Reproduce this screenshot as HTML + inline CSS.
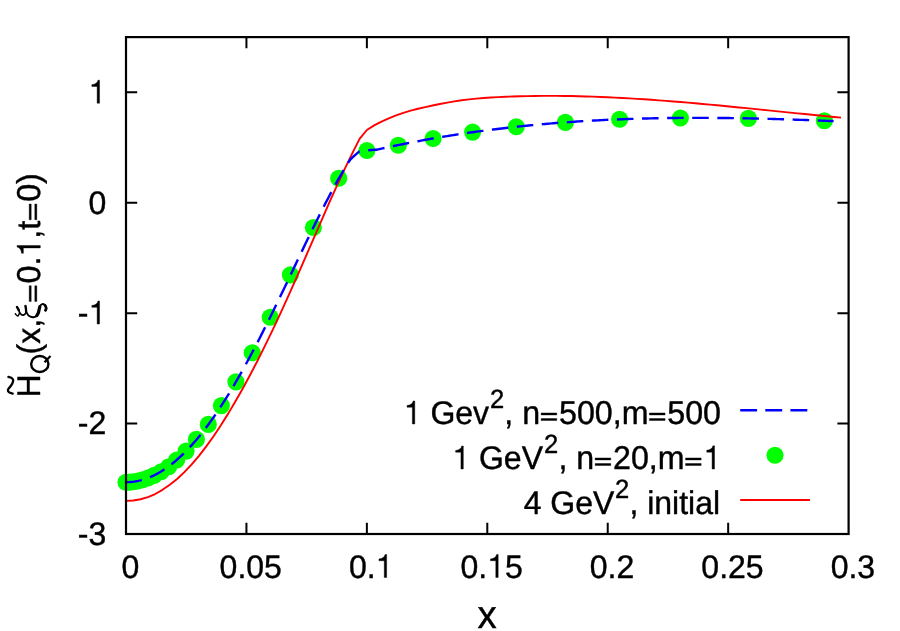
<!DOCTYPE html>
<html><head><meta charset="utf-8"><title>plot</title>
<style>html,body{margin:0;padding:0;background:#fff}svg{display:block;will-change:transform}</style>
</head><body>
<svg width="900" height="631" viewBox="0 0 900 631">
<rect width="900" height="631" fill="#fff"/>
<g fill="#00ff00"><circle cx="126.00" cy="482.20" r="8.55"/><circle cx="129.49" cy="482.09" r="8.55"/><circle cx="133.39" cy="481.72" r="8.55"/><circle cx="137.74" cy="481.00" r="8.55"/><circle cx="142.60" cy="479.80" r="8.55"/><circle cx="148.02" cy="477.97" r="8.55"/><circle cx="154.07" cy="475.34" r="8.55"/><circle cx="161.10" cy="471.70" r="8.55"/><circle cx="168.70" cy="466.70" r="8.55"/><circle cx="176.70" cy="460.00" r="8.55"/><circle cx="186.10" cy="451.10" r="8.55"/><circle cx="196.40" cy="439.40" r="8.55"/><circle cx="208.30" cy="424.40" r="8.55"/><circle cx="221.40" cy="405.60" r="8.55"/><circle cx="235.90" cy="381.90" r="8.55"/><circle cx="252.20" cy="352.80" r="8.55"/><circle cx="270.20" cy="317.20" r="8.55"/><circle cx="290.40" cy="274.90" r="8.55"/><circle cx="313.40" cy="227.50" r="8.55"/><circle cx="338.70" cy="178.30" r="8.55"/><circle cx="366.90" cy="150.50" r="8.55"/><circle cx="398.30" cy="145.30" r="8.55"/><circle cx="433.10" cy="138.50" r="8.55"/><circle cx="472.60" cy="132.10" r="8.55"/><circle cx="516.30" cy="126.70" r="8.55"/><circle cx="565.40" cy="122.40" r="8.55"/><circle cx="619.60" cy="119.20" r="8.55"/><circle cx="680.40" cy="118.00" r="8.55"/><circle cx="748.40" cy="118.40" r="8.55"/><circle cx="824.40" cy="120.80" r="8.55"/></g>
<path d="M126.00,500.90 L133.30,500.46 L140.60,499.25 L147.90,497.14 L155.20,494.03 L162.49,489.83 L169.79,484.79 L177.09,478.94 L184.39,472.15 L191.69,464.44 L198.99,455.83 L206.29,446.39 L213.59,436.19 L220.89,425.26 L228.19,413.63 L235.48,401.33 L242.78,388.45 L250.08,375.00 L257.38,360.98 L264.68,346.41 L271.98,331.35 L279.28,315.86 L286.58,299.90 L293.88,283.58 L301.18,267.06 L308.47,250.36 L315.77,233.60 L323.07,216.84 L330.37,200.15 L337.67,184.02 L344.97,168.46 L352.27,153.35 L359.57,138.85 L366.87,130.00 L374.17,125.34 L381.46,121.58 L388.76,118.30 L396.06,115.40 L403.36,112.86 L410.66,110.67 L417.96,108.78 L425.26,107.11 L432.56,105.53 L439.86,104.01 L447.16,102.61 L454.45,101.37 L461.75,100.31 L469.05,99.41 L476.35,98.66 L483.65,98.03 L490.95,97.51 L498.25,97.09 L505.55,96.75 L512.85,96.47 L520.15,96.25 L527.44,96.08 L534.74,95.96 L542.04,95.89 L549.34,95.86 L556.64,95.89 L563.94,95.96 L571.24,96.07 L578.54,96.23 L585.84,96.43 L593.14,96.66 L600.43,96.94 L607.73,97.25 L615.03,97.60 L622.33,97.98 L629.63,98.39 L636.93,98.84 L644.23,99.31 L651.53,99.81 L658.83,100.34 L666.13,100.89 L673.42,101.46 L680.72,102.06 L688.02,102.67 L695.32,103.31 L702.62,103.96 L709.92,104.63 L717.22,105.31 L724.52,106.01 L731.82,106.71 L739.12,107.43 L746.41,108.16 L753.71,108.89 L761.01,109.62 L768.31,110.36 L775.61,111.11 L782.91,111.85 L790.21,112.59 L797.51,113.33 L804.81,114.07 L812.11,114.80 L819.40,115.53 L826.70,116.25 L834.00,116.95 L841.00,117.62" fill="none" stroke="#ff0000" stroke-width="1.9" stroke-linejoin="round"/>
<path d="M126.00,482.20 L128.06,482.16 L130.12,482.05 L132.18,481.87 L134.24,481.61 L136.30,481.27 L138.36,480.87 L140.42,480.39 L142.48,479.83 L144.54,479.20 L146.60,478.50 L148.66,477.72 L150.72,476.88 L152.78,475.95 L154.83,474.96 L156.89,473.89 L158.95,472.75 L161.01,471.54 L163.07,470.26 L165.13,468.90 L167.19,467.47 L169.25,465.97 L171.31,464.40 L173.37,462.76 L175.43,461.05 L177.49,459.27 L179.55,457.42 L181.61,455.50 L183.67,453.52 L185.73,451.46 L187.79,449.34 L189.85,447.15 L191.91,444.89 L193.97,442.57 L196.03,440.18 L198.09,437.73 L200.15,435.21 L202.21,432.62 L204.27,429.98 L206.33,427.27 L208.39,424.50 L210.44,421.67 L212.50,418.78 L214.56,415.82 L216.62,412.81 L218.68,409.74 L220.74,406.62 L222.80,403.44 L224.86,400.20 L226.92,396.91 L228.98,393.56 L231.04,390.16 L233.10,386.71 L235.16,383.21 L237.22,379.66 L239.28,376.06 L241.34,372.42 L243.40,368.72 L245.46,364.99 L247.52,361.21 L249.58,357.39 L251.64,353.52 L253.70,349.62 L255.76,345.68 L257.82,341.71 L259.88,337.70 L261.94,333.65 L264.00,329.58 L266.06,325.47 L268.11,321.34 L270.17,317.18 L272.23,312.99 L274.29,308.78 L276.35,304.55 L278.41,300.30 L280.47,296.04 L282.53,291.76 L284.59,287.46 L286.65,283.16 L288.71,278.85 L290.77,274.53 L292.83,270.20 L294.89,265.88 L296.95,261.56 L299.01,257.24 L301.07,252.92 L303.13,248.62 L305.19,244.32 L307.25,240.04 L309.31,235.78 L311.37,231.54 L313.43,227.32 L315.49,223.13 L317.55,218.97 L319.61,214.84 L321.67,210.74 L323.72,206.69 L325.78,202.67 L327.84,198.71 L329.90,194.79 L331.96,190.93 L334.02,187.12 L336.08,183.38 L338.14,179.70 L340.20,176.09 L342.26,172.56 L344.32,169.10 L346.38,165.72 L348.44,162.44 L350.50,159.24 L354.50,155.60 L359.30,151.40 L362.50,150.60 L366.90,150.40 L374.75,149.75 L376.25,149.79 L378.34,149.33 L380.43,148.86 L382.52,148.40 L384.60,147.95 L386.69,147.50 L388.78,147.05 L390.87,146.61 L392.96,146.17 L395.05,145.73 L397.13,145.30 L399.22,144.87 L401.31,144.45 L403.40,144.03 L405.49,143.61 L407.58,143.20 L409.66,142.79 L411.75,142.39 L413.84,141.99 L415.93,141.59 L418.02,141.20 L420.11,140.81 L422.19,140.42 L424.28,140.04 L426.37,139.66 L428.46,139.29 L430.55,138.91 L432.64,138.55 L434.72,138.18 L436.81,137.82 L438.90,137.47 L440.99,137.12 L443.08,136.77 L445.17,136.42 L447.25,136.08 L449.34,135.74 L451.43,135.41 L453.52,135.08 L455.61,134.75 L457.70,134.43 L459.78,134.11 L461.87,133.79 L463.96,133.48 L466.05,133.17 L468.14,132.86 L470.23,132.56 L472.31,132.26 L474.40,131.97 L476.49,131.68 L478.58,131.39 L480.67,131.10 L482.76,130.82 L484.84,130.55 L486.93,130.27 L489.02,130.00 L491.11,129.73 L493.20,129.47 L495.29,129.21 L497.37,128.95 L499.46,128.70 L501.55,128.45 L503.64,128.20 L505.73,127.96 L507.82,127.72 L509.90,127.48 L511.99,127.24 L514.08,127.01 L516.17,126.79 L518.26,126.56 L520.35,126.34 L522.43,126.12 L524.52,125.91 L526.61,125.70 L528.70,125.49 L530.79,125.29 L532.88,125.09 L534.97,124.89 L537.05,124.69 L539.14,124.50 L541.23,124.31 L543.32,124.13 L545.41,123.94 L547.50,123.76 L549.58,123.59 L551.67,123.41 L553.76,123.24 L555.85,123.07 L557.94,122.91 L560.03,122.75 L562.11,122.59 L564.20,122.43 L566.29,122.28 L568.38,122.13 L570.47,121.98 L572.56,121.84 L574.64,121.70 L576.73,121.56 L578.82,121.42 L580.91,121.29 L583.00,121.16 L585.09,121.03 L587.17,120.91 L589.26,120.79 L591.35,120.67 L593.44,120.55 L595.53,120.44 L597.62,120.33 L599.70,120.22 L601.79,120.11 L603.88,120.01 L605.97,119.91 L608.06,119.81 L610.15,119.72 L612.23,119.62 L614.32,119.53 L616.41,119.45 L618.50,119.36 L620.59,119.28 L622.68,119.20 L624.76,119.12 L626.85,119.05 L628.94,118.97 L631.03,118.90 L633.12,118.84 L635.21,118.77 L637.29,118.71 L639.38,118.65 L641.47,118.59 L643.56,118.53 L645.65,118.48 L647.74,118.43 L649.82,118.38 L651.91,118.33 L654.00,118.29 L656.09,118.24 L658.18,118.20 L660.27,118.17 L662.35,118.13 L664.44,118.10 L666.53,118.07 L668.62,118.04 L670.71,118.01 L672.80,117.99 L674.88,117.96 L676.97,117.94 L679.06,117.92 L681.15,117.91 L683.24,117.89 L685.33,117.88 L687.42,117.87 L689.50,117.86 L691.59,117.85 L693.68,117.85 L695.77,117.85 L697.86,117.84 L699.95,117.85 L702.03,117.85 L704.12,117.85 L706.21,117.86 L708.30,117.87 L710.39,117.88 L712.48,117.89 L714.56,117.91 L716.65,117.92 L718.74,117.94 L720.83,117.96 L722.92,117.98 L725.01,118.00 L727.09,118.03 L729.18,118.05 L731.27,118.08 L733.36,118.11 L735.45,118.14 L737.54,118.17 L739.62,118.21 L741.71,118.24 L743.80,118.28 L745.89,118.32 L747.98,118.36 L750.07,118.40 L752.15,118.45 L754.24,118.49 L756.33,118.54 L758.42,118.59 L760.51,118.63 L762.60,118.69 L764.68,118.74 L766.77,118.79 L768.86,118.85 L770.95,118.90 L773.04,118.96 L775.13,119.02 L777.21,119.08 L779.30,119.14 L781.39,119.21 L783.48,119.27 L785.57,119.34 L787.66,119.40 L789.74,119.47 L791.83,119.54 L793.92,119.61 L796.01,119.68 L798.10,119.76 L800.19,119.83 L802.27,119.90 L804.36,119.98 L806.45,120.06 L808.54,120.14 L810.63,120.22 L812.72,120.30 L814.80,120.38 L816.89,120.46 L818.98,120.54 L821.07,120.63 L823.16,120.72 L825.25,120.80 L827.33,120.89 L829.42,120.98 L831.51,121.07 L833.60,121.16" fill="none" stroke="#0000ff" stroke-width="2.4" stroke-dasharray="16.55 8.554" stroke-dashoffset="0.5" stroke-linejoin="round"/>
<path d="M740.2,410.2 H807.3" fill="none" stroke="#0000ff" stroke-width="2.4" stroke-dasharray="16.9 8.2"/>
<circle cx="775" cy="455.3" r="8.55" fill="#00ff00"/>
<path d="M740.2,500 H810" fill="none" stroke="#ff0000" stroke-width="1.9"/>
<path d="M246.43,534.00 v-11.2 M246.43,37.10 v11.2 M366.87,534.00 v-11.2 M366.87,37.10 v11.2 M487.30,534.00 v-11.2 M487.30,37.10 v11.2 M607.73,534.00 v-11.2 M607.73,37.10 v11.2 M728.17,534.00 v-11.2 M728.17,37.10 v11.2 M126.00,92.31 h11.2 M848.60,92.31 h-11.2 M126.00,202.73 h11.2 M848.60,202.73 h-11.2 M126.00,313.16 h11.2 M848.60,313.16 h-11.2 M126.00,423.58 h11.2 M848.60,423.58 h-11.2" fill="none" stroke="#000" stroke-width="2"/>
<rect x="126.00" y="37.10" width="722.60" height="496.90" fill="none" stroke="#000" stroke-width="2.2"/>
<g font-family="'Liberation Sans', sans-serif" font-size="32" fill="#000" stroke="#000" stroke-width="0.4" stroke-linejoin="round" text-rendering="geometricPrecision" style="font-kerning:none">
<path d="M99.54,103.21L99.54,80.18L97.98,80.18C97.46,82.68 95.38,84.44 91.83,84.63L91.83,86.45L97.14,86.45L97.14,103.21Z"/>
<text transform="translate(88.50,213.63) scale(1,1.022)">0</text>
<text transform="translate(77.85,324.06) scale(1,1.022)">-</text><path d="M99.54,324.06L99.54,301.03L97.98,301.03C97.46,303.53 95.38,305.28 91.83,305.48L91.83,307.30L97.14,307.30L97.14,324.06Z"/>
<text transform="translate(77.85,434.48) scale(1,1.022)">-2</text>
<text transform="translate(77.85,544.90) scale(1,1.022)">-3</text>
<text transform="translate(121.40,577.50) scale(1,1.022)">0</text>
<text transform="translate(219.59,577.50) scale(1,1.022)">0.05</text>
<text transform="translate(348.92,577.50) scale(1,1.022)">0.</text><path d="M386.65,577.50L386.65,554.47L385.08,554.47C384.57,556.97 382.49,558.73 378.94,558.92L378.94,560.74L384.25,560.74L384.25,577.50Z"/>
<text transform="translate(460.46,577.50) scale(1,1.022)">0.</text><path d="M498.19,577.50L498.19,554.47L496.62,554.47C496.11,556.97 494.03,558.73 490.47,558.92L490.47,560.74L495.79,560.74L495.79,577.50Z"/><text transform="translate(504.94,577.50) scale(1,1.022)">5</text>
<text transform="translate(589.79,577.50) scale(1,1.022)">0.2</text>
<text transform="translate(701.33,577.50) scale(1,1.022)">0.25</text>
<text transform="translate(830.66,577.50) scale(1,1.022)">0.3</text>
<path d="M414.77,424.00L414.77,400.97L413.20,400.97C412.69,403.47 410.61,405.23 407.05,405.42L407.05,407.24L412.37,407.24L412.37,424.00Z"/><text transform="translate(430.41,424.00) scale(1,1.022)">Gev</text>
<text transform="translate(490.00,408.00) scale(1,1.022)" font-size="25.6">2</text>
<text transform="translate(504.37,424.00) scale(1,1.022)" font-size="32.2">, n</text><path d="M541.14,412.94h15.62v2.00h-15.62Z M541.14,418.53h15.62v2.00h-15.62Z"/><text transform="translate(558.98,424.00) scale(1,1.022)" font-size="32.2">500,m</text><path d="M649.44,412.94h15.62v2.00h-15.62Z M649.44,418.53h15.62v2.00h-15.62Z"/><text transform="translate(667.28,424.00) scale(1,1.022)" font-size="32.2">500</text>
<path d="M463.32,469.00L463.32,445.97L461.75,445.97C461.24,448.47 459.16,450.23 455.61,450.42L455.61,452.24L460.92,452.24L460.92,469.00Z"/><text transform="translate(478.97,469.00) scale(1,1.022)">GeV</text>
<text transform="translate(544.10,453.00) scale(1,1.022)" font-size="25.6">2</text>
<text transform="translate(558.40,469.00) scale(1,1.022)" font-size="32.2">, n</text><path d="M595.16,457.94h15.62v2.00h-15.62Z M595.16,463.53h15.62v2.00h-15.62Z"/><text transform="translate(613.00,469.00) scale(1,1.022)" font-size="32.2">20,m</text><path d="M685.55,457.94h15.62v2.00h-15.62Z M685.55,463.53h15.62v2.00h-15.62Z"/><path d="M714.50,469.00L714.50,445.83L712.92,445.83C712.41,448.34 710.31,450.11 706.74,450.31L706.74,452.14L712.09,452.14L712.09,469.00Z"/>
<text transform="translate(523.68,514.00) scale(1,1.022)">4 GeV</text>
<text transform="translate(614.90,498.00) scale(1,1.022)" font-size="25.6">2</text>
<text transform="translate(629.40,514.00) scale(1,1.022)">, initial</text>
<text transform="translate(477.57,627.60) scale(1,1.022)" font-size="38.5">x</text>
<g transform="translate(40.3,397.5) rotate(-90)"><text transform="translate(0.00,0.00) scale(1,1.022)">H</text><text transform="translate(43.02,0.00) scale(1,1.022)">(x,</text><path d="M96.04,-11.10h15.67v2.00h-15.67Z M96.04,-5.49h15.67v2.00h-15.67Z"/><text transform="translate(113.93,0.00) scale(1,1.022)" font-size="32.3">0.</text><path d="M152.01,0.00L152.01,-23.24L150.43,-23.24C149.91,-20.72 147.81,-18.95 144.23,-18.75L144.23,-16.92L149.59,-16.92L149.59,0.00Z"/><text transform="translate(158.83,0.00) scale(1,1.022)" font-size="32.3">,t</text><path d="M177.75,-11.10h15.67v2.00h-15.67Z M177.75,-5.49h15.67v2.00h-15.67Z"/><text transform="translate(195.64,0.00) scale(1,1.022)" font-size="32.3">0)</text></g>
</g>
<g fill="none" stroke="#000" stroke-linecap="round" stroke-linejoin="round">
<path d="M8.42,376.89 C8.93,377.05 10.71,377.28 11.50,377.84 C12.29,378.39 13.05,379.23 13.17,380.22 C13.29,381.21 12.78,382.63 12.22,383.78 C11.67,384.93 10.55,386.08 9.84,387.11 C9.13,388.14 8.06,389.09 7.94,389.96 C7.82,390.83 8.34,391.75 9.13,392.34 C9.92,392.93 12.10,393.33 12.69,393.53" stroke-width="2.35"/>
<ellipse cx="39.8" cy="364" rx="8.65" ry="8" stroke-width="2.4"/>
<path d="M44.5,362.3 L50.5,356.1" stroke-width="2.2" stroke-linecap="butt"/>
<path d="M17.00,307.10 C17.27,307.53 18.20,308.81 18.63,309.67 C19.06,310.53 19.52,311.45 19.57,312.23 C19.62,313.01 19.31,313.71 18.96,314.33 C18.61,314.95 18.07,316.05 17.47,315.97 C16.87,315.89 15.72,314.22 15.37,313.87" stroke-width="1.5"/>
<path d="M17.00,307.10 C17.17,307.39 17.72,308.25 18.03,308.83 C18.34,309.41 18.73,310.31 18.87,310.60" stroke-width="2.4"/>
<path d="M19.57,312.37 C19.78,312.67 20.29,313.72 20.83,314.19 C21.37,314.66 22.15,315.19 22.83,315.17 C23.51,315.16 24.38,314.71 24.93,314.10 C25.48,313.49 25.94,312.50 26.10,311.53 C26.26,310.56 25.99,309.24 25.87,308.27 C25.75,307.30 25.48,306.13 25.40,305.70" stroke-width="1.6"/>
<path d="M26.10,311.53 C26.07,311.02 26.02,309.42 25.91,308.50 C25.80,307.58 25.53,306.44 25.45,306.03" stroke-width="2.3"/>
<path d="M26.10,311.53 C26.41,312.07 27.23,313.94 27.97,314.80 C28.71,315.66 29.64,316.26 30.53,316.67 C31.42,317.08 32.40,317.31 33.33,317.23 C34.26,317.15 35.31,316.92 36.13,316.20 C36.95,315.48 37.72,314.10 38.23,312.93 C38.73,311.76 38.85,310.37 39.16,309.20 C39.47,308.03 39.59,306.79 40.10,305.93 C40.61,305.07 41.42,304.23 42.20,304.07 C42.98,303.91 44.08,304.34 44.76,305.00 C45.44,305.66 46.20,307.10 46.30,308.03 C46.40,308.96 45.52,310.17 45.37,310.60" stroke-width="1.8"/>
<path d="M36.83,315.50 C37.08,315.06 37.92,313.89 38.32,312.84 C38.72,311.79 38.95,310.24 39.21,309.20 C39.47,308.16 39.75,307.06 39.86,306.63" stroke-width="3.2"/>
<path d="M45.00,305.37 C45.20,305.81 46.13,307.22 46.21,308.03 C46.29,308.84 45.59,309.86 45.46,310.23" stroke-width="2.7"/>
</g>
</svg>
</body></html>
